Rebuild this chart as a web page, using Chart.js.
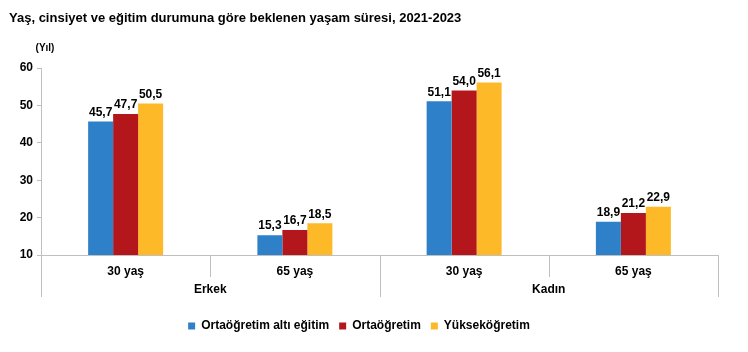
<!DOCTYPE html>
<html>
<head>
<meta charset="utf-8">
<script src="https://cdn.jsdelivr.net/npm/chart.js@4"></script>
<style>
    html, body { margin: 0; padding: 0; background: #fff; }
    #wrap { width: 748px; height: 352px; }
</style>
</head>
<body>
<div id="wrap"><canvas id="chart" width="748" height="352"></canvas></div>
<script>
const categories = ['30 yaş', '65 yaş', '30 yaş', '65 yaş'];
const groups = ['Erkek', 'Kadın'];
const seriesNames = ['Ortaöğretim altı eğitim', 'Ortaöğretim', 'Yükseköğretim'];
const altiEgitim = [45.7, 15.3, 51.1, 18.9];
const ortaogretim = [47.7, 16.7, 54.0, 21.2];
const yuksekogretim = [50.5, 18.5, 56.1, 22.9];
const yTicks = [10, 20, 30, 40, 50, 60];

const FONT = '"Liberation Sans", Arial, sans-serif';
const AXIS_GRAY = '#bfbfbf';

// Title, unit label, value labels, group labels and separators
const decorPlugin = {
    id: 'decor',
    afterDraw(chart) {
        const ctx = chart.ctx;
        const area = chart.chartArea;
        const x = chart.scales.x;
        ctx.save();

        ctx.fillStyle = '#000';
        ctx.font = 'bold 13px ' + FONT;
        ctx.textAlign = 'left';
        ctx.textBaseline = 'middle';
        ctx.fillText('Yaş, cinsiyet ve eğitim durumuna göre beklenen yaşam süresi, 2021-2023', 9, 18);

        ctx.font = 'bold 10px ' + FONT;
        ctx.textAlign = 'center';
        ctx.fillText('(Yıl)', 45, 48);

        // value labels
        ctx.font = 'bold 12px ' + FONT;
        ctx.textBaseline = 'bottom';
        chart.data.datasets.forEach((ds, i) => {
            chart.getDatasetMeta(i).data.forEach((bar, j) => {
                ctx.fillText(ds.data[j].toFixed(1).replace('.', ','), bar.x, bar.y - 3);
            });
        });

        // separators
        ctx.strokeStyle = AXIS_GRAY;
        ctx.lineWidth = 1;
        const step = (area.right - area.left) / categories.length;
        for (let k = 0; k <= categories.length; k++) {
            const px = Math.round(area.left + k * step) + 0.5;
            const long = k % 2 === 0;
            ctx.beginPath();
            ctx.moveTo(px, area.bottom);
            ctx.lineTo(px, area.bottom + (long ? 42 : 22));
            ctx.stroke();
        }

        // group labels
        ctx.font = 'bold 12px ' + FONT;
        ctx.textBaseline = 'middle';
        groups.forEach((g, i) => {
            const gx = (x.getPixelForValue(i * 2) + x.getPixelForValue(i * 2 + 1)) / 2;
            ctx.fillText(g, gx, 290);
        });
        ctx.restore();
    }
};

new Chart(document.getElementById('chart'), {
    type: 'bar',
    data: {
        labels: categories,
        datasets: [
            { label: seriesNames[0], data: altiEgitim, backgroundColor: '#2e80c8' },
            { label: seriesNames[1], data: ortaogretim, backgroundColor: '#b3161b' },
            { label: seriesNames[2], data: yuksekogretim, backgroundColor: '#fdb927' }
        ]
    },
    options: {
        responsive: false,
        animation: false,
        layout: { padding: { top: 68, right: 30, bottom: 10, left: 0 } },
        datasets: {
            bar: { categoryPercentage: 0.443, barPercentage: 1.0, borderWidth: 0 }
        },
        plugins: {
            title: { display: false },
            tooltip: { enabled: false },
            legend: {
                position: 'bottom',
                labels: {
                    boxWidth: 7,
                    boxHeight: 7,
                    padding: 10,
                    color: '#000',
                    font: { family: FONT, size: 12, weight: 'bold' }
                }
            }
        },
        scales: {
            x: {
                grid: { display: false, drawTicks: false },
                border: { display: true, color: AXIS_GRAY, width: 1 },
                ticks: {
                    color: '#000',
                    padding: 9,
                    maxRotation: 0,
                    font: { family: FONT, size: 12, weight: 'bold' }
                },
                afterFit(scale) { scale.height = 55; }
            },
            y: {
                min: 10,
                max: 60,
                afterBuildTicks(scale) { scale.ticks = yTicks.map(v => ({ value: v })); },
                grid: { drawOnChartArea: false, drawTicks: true, tickLength: 4, color: AXIS_GRAY },
                border: { display: true, color: AXIS_GRAY, width: 1 },
                ticks: {
                    color: '#000',
                    padding: 4,
                    font: { family: FONT, size: 12, weight: 'bold' }
                },
                afterFit(scale) { scale.width = 41; }
            }
        }
    },
    plugins: [decorPlugin]
});
</script>
</body>
</html>
